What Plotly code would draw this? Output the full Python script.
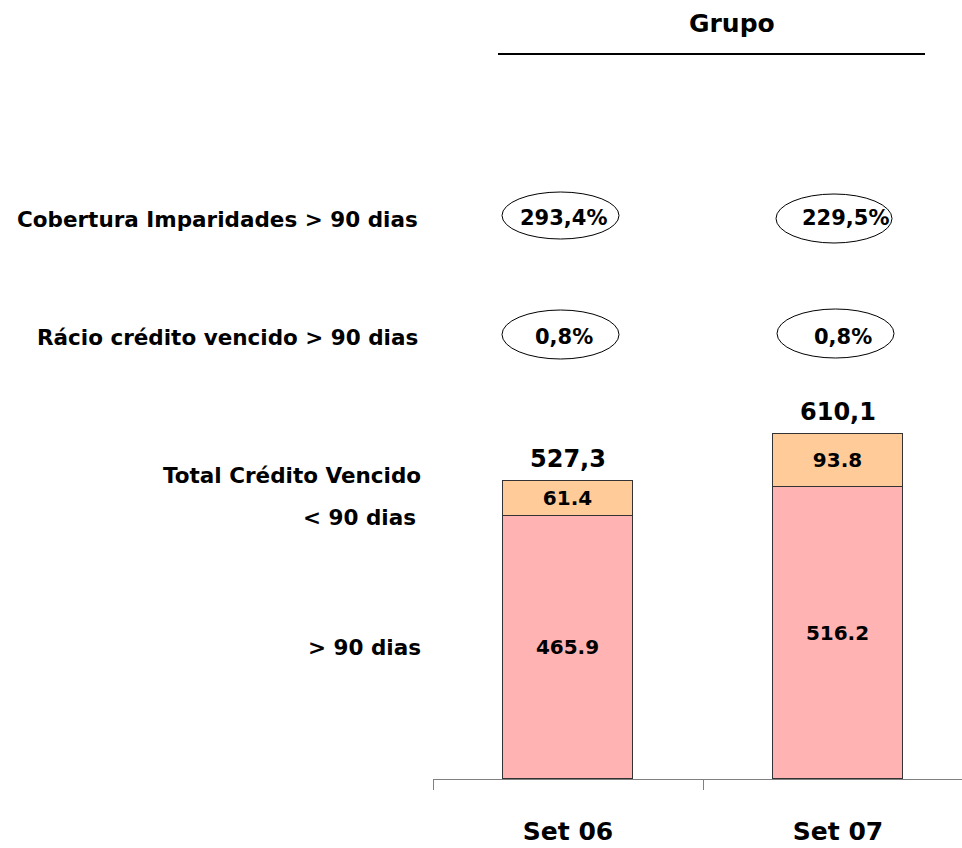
import plotly.graph_objects as go

categories = ["Set 06", "Set 07"]
over_90 = [465.9, 516.2]
under_90 = [61.4, 93.8]
totals_text = ["527,3", "610,1"]
cobertura = ["293,4%", "229,5%"]
racio = ["0,8%", "0,8%"]
row_labels = ["Cobertura Imparidades > 90 dias", "Rácio crédito vencido > 90 dias",
              "Total Crédito Vencido", "< 90 dias", "> 90 dias"]
title_text = "Grupo"

W, H = 962, 848
L, R, T, B = 433, 0, 100, 69
plot_w = W - L - R
plot_h = H - T - B
px_per_unit = 298 / 527.3
ymax = plot_h / px_per_unit
cat_px = 270

FONT = "DejaVu Sans"
C_PINK = "#FFB3B3"
C_ORANGE = "#FFCC99"

def xp(px):
    return (px - L) / plot_w

def yp(py):
    return (H - B - py) / plot_h

fig = go.Figure()
fig.add_trace(go.Bar(
    x=categories, y=over_90, width=130 / cat_px,
    marker=dict(color=C_PINK, line=dict(color="#333333", width=1)),
    text=[f"{v:.1f}" for v in over_90], textposition="inside", insidetextanchor="middle",
    textfont=dict(family=FONT, size=20, color="black", weight="bold"),
    showlegend=False, hoverinfo="skip"))
fig.add_trace(go.Bar(
    x=categories, y=under_90, width=130 / cat_px,
    marker=dict(color=C_ORANGE, line=dict(color="#333333", width=1)),
    text=[f"{v:.1f}" for v in under_90], textposition="inside", insidetextanchor="middle",
    textfont=dict(family=FONT, size=20, color="black", weight="bold"),
    showlegend=False, hoverinfo="skip"))

totals = [a + b for a, b in zip(over_90, under_90)]
annotations = []
for i, (t, tt) in enumerate(zip(totals, totals_text)):
    annotations.append(dict(x=i, y=t, xref="x", yref="y", text=tt, showarrow=False,
                            xanchor="center", yanchor="bottom", yshift=6,
                            font=dict(family=FONT, size=24, color="black", weight="bold")))

# ratio ellipses
ell1 = [(502, 619, 192, 239), (776, 892, 194, 243)]
ell2 = [(502, 619, 310, 359), (777, 894, 309, 358)]
txt1_x = [563, 845]
txt2_x = [564, 843]
shapes = []
for (x0, x1, y0, y1) in ell1 + ell2:
    shapes.append(dict(type="circle", xref="paper", yref="paper",
                       x0=xp(x0), x1=xp(x1), y0=yp(y1), y1=yp(y0),
                       line=dict(color="black", width=1)))
for i, v in enumerate(cobertura):
    annotations.append(dict(x=xp(txt1_x[i]), y=yp(218), xref="paper", yref="paper", text=v,
                            showarrow=False, xanchor="center", yanchor="middle",
                            font=dict(family=FONT, size=21, color="black", weight="bold")))
for i, v in enumerate(racio):
    annotations.append(dict(x=xp(txt2_x[i]), y=yp(337), xref="paper", yref="paper", text=v,
                            showarrow=False, xanchor="center", yanchor="middle",
                            font=dict(family=FONT, size=21, color="black", weight="bold")))

# left row labels
lab_pos = [(420, 219), (420, 337), (423, 475), (418, 517), (423, 647)]
for lab, (x, y) in zip(row_labels, lab_pos):
    annotations.append(dict(x=xp(x), y=yp(y), xref="paper", yref="paper", text=lab,
                            showarrow=False, xanchor="right", yanchor="middle",
                            font=dict(family=FONT, size=21.5, color="black", weight="bold")))

# title and underline
annotations.append(dict(x=xp(732), y=yp(24), xref="paper", yref="paper", text=title_text,
                        showarrow=False, xanchor="center", yanchor="middle",
                        font=dict(family=FONT, size=25, color="black", weight="bold")))
shapes.append(dict(type="line", xref="paper", yref="paper", x0=xp(498), x1=xp(925),
                   y0=yp(54), y1=yp(54), line=dict(color="black", width=2)))

fig.update_layout(
    width=W, height=H, barmode="stack", bargap=0,
    margin=dict(l=L, r=R, t=T, b=B),
    plot_bgcolor="white", paper_bgcolor="white",
    xaxis=dict(range=[-0.5, -0.5 + plot_w / cat_px], showgrid=False, zeroline=False,
               showline=True, linecolor="#808080", linewidth=1,
               ticks="outside", tickson="boundaries", ticklen=10, tickcolor="#808080",
               tickfont=dict(family=FONT, size=25, color="black", weight="bold"),
               ticklabelstandoff=30),
    yaxis=dict(range=[0, ymax], visible=False),
    annotations=annotations, shapes=shapes,
)
fig.write_html("out.html", config={"displayModeBar": False},
               post_script="document.body.style.margin='0';document.body.style.overflow='hidden';")
